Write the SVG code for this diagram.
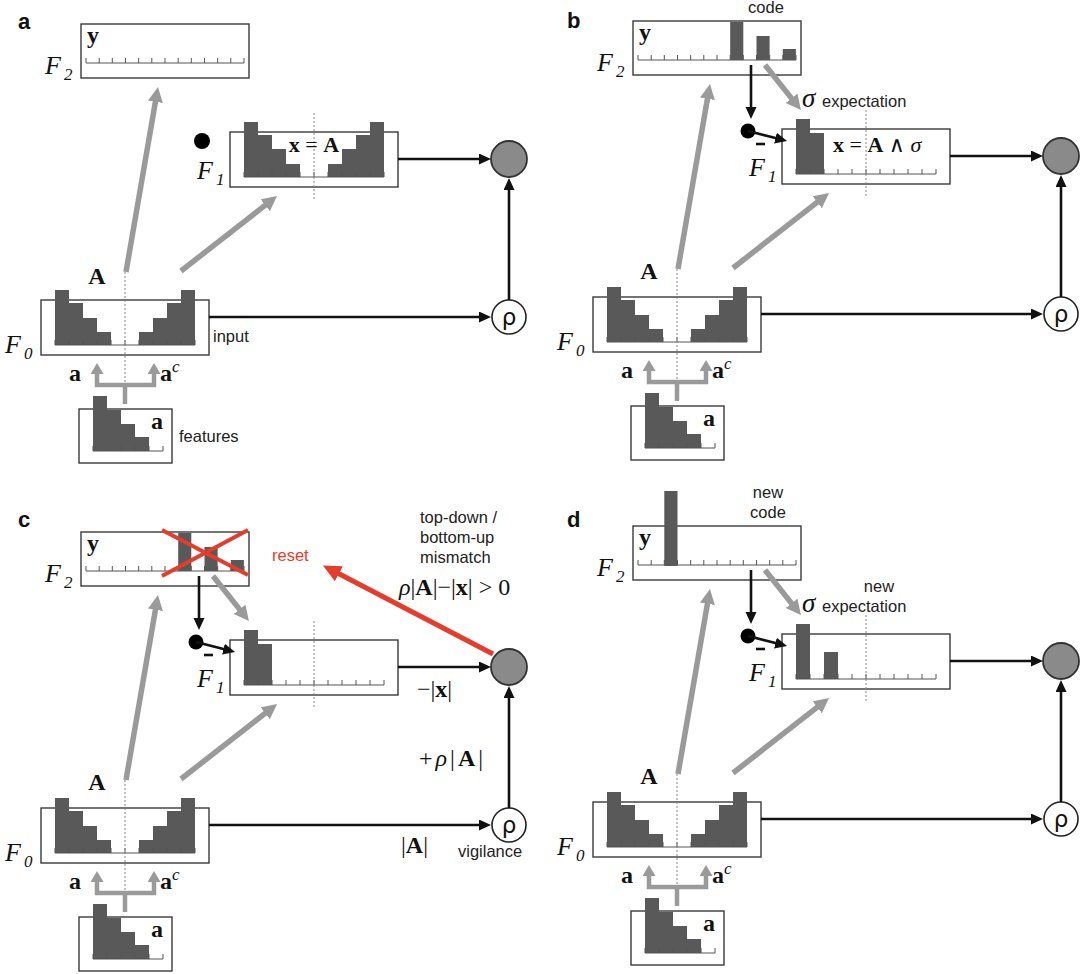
<svg xmlns="http://www.w3.org/2000/svg" width="1080" height="974" viewBox="0 0 1080 974">
<style>
.box{fill:#fff;stroke:#3a3a3a;stroke-width:1.4}
.bar{fill:#595959}
.axis{fill:none;stroke:#555;stroke-width:1}
.dash{fill:none;stroke:#888;stroke-width:1;stroke-dasharray:2 2}
.garrow{fill:none;stroke:#9a9a9a;stroke-width:5.5}
.gbranch{fill:none;stroke:#9a9a9a;stroke-width:4.5;stroke-linejoin:miter}
.barrow{fill:none;stroke:#111;stroke-width:2.6}
.rarrow{fill:none;stroke:#e63c2b;stroke-width:5}
.redx{fill:none;stroke:#e63c2b;stroke-width:4}
.match{fill:#8a8a8a;stroke:#333;stroke-width:1.8}
.rho{fill:#fff;stroke:#222;stroke-width:1.6}
.dot{fill:#000}
.math{font-family:"Liberation Serif","DejaVu Serif",serif;fill:#111}
.fl{font-family:"Liberation Serif","DejaVu Serif",serif;font-style:italic;font-size:26px;fill:#111}
.sub{font-family:"Liberation Serif","DejaVu Serif",serif;font-style:italic;font-size:17px;fill:#111}
.bs{font-family:"Liberation Serif","DejaVu Serif",serif;font-weight:bold;font-size:24px;fill:#111}
.lbl{font-family:"Liberation Sans","Arial",sans-serif;font-size:16.5px;fill:#222}
.pl{font-family:"Liberation Sans","Arial",sans-serif;font-weight:bold;font-size:22px;fill:#111}
.rhot{font-family:"DejaVu Sans","Liberation Sans",sans-serif;font-size:23px;fill:#111;text-anchor:middle}
</style>
<defs>
<marker id="gh" markerUnits="userSpaceOnUse" markerWidth="16" markerHeight="16" refX="1" refY="7.5" orient="auto"><path d="M0,0 L15,7.5 L0,15 z" fill="#9a9a9a"/></marker>
<marker id="gs" markerUnits="userSpaceOnUse" markerWidth="12" markerHeight="14" refX="1" refY="6.5" orient="auto"><path d="M0,0 L11,6.5 L0,13 z" fill="#9a9a9a"/></marker>
<marker id="bh" markerUnits="userSpaceOnUse" markerWidth="14" markerHeight="12" refX="1" refY="5.5" orient="auto"><path d="M0,0 L12,5.5 L0,11 z" fill="#111"/></marker>
<marker id="rh" markerUnits="userSpaceOnUse" markerWidth="20" markerHeight="18" refX="1" refY="8.5" orient="auto"><path d="M0,0 L18,8.5 L0,17 z" fill="#e63c2b"/></marker>
</defs>

<g id="panel-letters">
<text class="pl" x="18" y="29">a</text>
<text class="pl" x="567" y="28">b</text>
<text class="pl" x="18" y="527">c</text>
<text class="pl" x="567" y="527">d</text>
</g>

<!-- ================= PANEL A ================= -->
<g id="panel-a">
<g id="a-F2">
<rect class="box" x="81" y="24" width="168" height="54"/>
<path class="axis" d="M86,63H244M86,58V63M99.2,58V63M112.3,58V63M125.5,58V63M138.7,58V63M151.8,58V63M165,58V63M178.2,58V63M191.3,58V63M204.5,58V63M217.7,58V63M230.8,58V63M244,58V63"/>
<text class="bs" x="87" y="43">y</text>
<text class="fl" x="45" y="74">F</text><text class="sub" x="64" y="80">2</text>
</g>
<g id="a-F1">
<rect class="box" x="230" y="132" width="168" height="55"/>
<rect class="bar" x="244" y="122" width="14" height="55"/><rect class="bar" x="258" y="135" width="14" height="42"/><rect class="bar" x="272" y="149" width="14" height="28"/><rect class="bar" x="286" y="164" width="14" height="13"/>
<rect class="bar" x="328" y="164" width="14" height="13"/><rect class="bar" x="342" y="149" width="14" height="28"/><rect class="bar" x="356" y="135" width="14" height="42"/><rect class="bar" x="370" y="122" width="14" height="55"/>
<path class="axis" d="M244,177H384M244,172V177M258,172V177M272,172V177M286,172V177M300,172V177M314,172V177M328,172V177M342,172V177M356,172V177M370,172V177M384,172V177"/>
<path class="dash" d="M314,113V200"/>
<text class="math" x="314" y="152" font-size="22" text-anchor="middle"><tspan font-weight="bold">x</tspan> = <tspan font-weight="bold">A</tspan></text>
<circle class="dot" cx="202" cy="141" r="8"/>
<text class="fl" x="197" y="179">F</text><text class="sub" x="216" y="185">1</text>
</g>
<g id="a-F0">
<rect class="box" x="41" y="300" width="168" height="55"/>
<rect class="bar" x="55" y="290" width="14" height="55"/><rect class="bar" x="69" y="303" width="14" height="42"/><rect class="bar" x="83" y="318" width="14" height="27"/><rect class="bar" x="97" y="332" width="14" height="13"/>
<rect class="bar" x="139" y="332" width="14" height="13"/><rect class="bar" x="153" y="318" width="14" height="27"/><rect class="bar" x="167" y="303" width="14" height="42"/><rect class="bar" x="181" y="290" width="14" height="55"/>
<path class="axis" d="M55,345H195M55,340V345M69,340V345M83,340V345M97,340V345M111,340V345M125,340V345M139,340V345M153,340V345M167,340V345M181,340V345M195,340V345"/>
<path class="dash" d="M125,272V385"/>
<text class="bs" x="97" y="284" text-anchor="middle" font-size="25">A</text>
<text class="fl" x="5" y="353">F</text><text class="sub" x="24" y="359">0</text>
<text class="lbl" x="213" y="342">input</text>
<text class="bs" x="69" y="381">a</text>
<text class="bs" x="160" y="381">a</text><text class="sub" x="172" y="372" font-size="14">c</text>
</g>
<g id="a-features">
<rect class="box" x="79" y="409" width="93" height="54"/>
<rect class="bar" x="93" y="396" width="14" height="55"/><rect class="bar" x="107" y="410" width="14" height="41"/><rect class="bar" x="121" y="424" width="14" height="27"/><rect class="bar" x="135" y="437" width="14" height="14"/>
<path class="axis" d="M93,451H163M93,446V451M107,446V451M121,446V451M135,446V451M149,446V451M163,446V451"/>
<text class="bs" x="151" y="429" font-size="23">a</text>
<text class="lbl" x="179" y="442">features</text>
</g>
<g id="a-match"><circle class="match" cx="509" cy="159" r="18"/></g>
<g id="a-rho"><circle class="rho" cx="509" cy="317" r="17"/><text class="rhot" x="509" y="325">ρ</text></g>
<g id="a-connectors">
<path class="garrow" d="M126,272L155.6,100.8" marker-end="url(#gh)"/>
<path class="garrow" d="M181,271L266,204.6" marker-end="url(#gh)"/>
<path class="gbranch" d="M125,404V385M125,385H97V373" marker-end="url(#gs)"/>
<path class="gbranch" d="M125,385H154V373" marker-end="url(#gs)"/>
<path class="barrow" d="M398,159H480" marker-end="url(#bh)"/>
<path class="barrow" d="M209,317H480" marker-end="url(#bh)"/>
<path class="barrow" d="M509,300V189" marker-end="url(#bh)"/>
</g>
</g>

<!-- ================= PANEL B ================= -->
<g id="panel-b" transform="translate(552,-3)">
<g id="b-F2">
<rect class="box" x="81" y="24" width="168" height="54"/>
<path class="axis" d="M86,63H244M86,58V63M99.2,58V63M112.3,58V63M125.5,58V63M138.7,58V63M151.8,58V63M165,58V63M178.2,58V63M191.3,58V63M204.5,58V63M217.7,58V63M230.8,58V63M244,58V63"/>
<rect class="bar" x="178.2" y="25" width="13.1" height="38"/><rect class="bar" x="204.5" y="39" width="13.1" height="24"/><rect class="bar" x="230.8" y="52" width="13.1" height="11"/>
<text class="bs" x="87" y="43">y</text>
<text class="fl" x="45" y="74">F</text><text class="sub" x="64" y="80">2</text>
<text class="lbl" x="214" y="16" text-anchor="middle">code</text>
</g>
<g id="b-F1">
<rect class="box" x="230" y="132" width="168" height="55"/>
<rect class="bar" x="244" y="122" width="14" height="55"/><rect class="bar" x="258" y="136" width="14" height="41"/>
<path class="axis" d="M244,177H384M244,172V177M258,172V177M272,172V177M286,172V177M300,172V177M314,172V177M328,172V177M342,172V177M356,172V177M370,172V177M384,172V177"/>
<path class="dash" d="M314,113V200"/>
<text class="math" x="281" y="155" font-size="22"><tspan font-weight="bold">x</tspan> = <tspan font-weight="bold">A</tspan> ∧ <tspan font-style="italic">σ</tspan></text>
<circle class="dot" cx="196" cy="134" r="7.5"/>
<text class="fl" x="197" y="179">F</text><text class="sub" x="216" y="185">1</text>
<text class="math" x="250" y="110" font-size="27" font-style="italic">σ</text>
<text class="lbl" x="270" y="110">expectation</text>
</g>
<g id="b-F0">
<rect class="box" x="41" y="300" width="168" height="55"/>
<rect class="bar" x="55" y="290" width="14" height="55"/><rect class="bar" x="69" y="303" width="14" height="42"/><rect class="bar" x="83" y="318" width="14" height="27"/><rect class="bar" x="97" y="332" width="14" height="13"/>
<rect class="bar" x="139" y="332" width="14" height="13"/><rect class="bar" x="153" y="318" width="14" height="27"/><rect class="bar" x="167" y="303" width="14" height="42"/><rect class="bar" x="181" y="290" width="14" height="55"/>
<path class="axis" d="M55,345H195M55,340V345M69,340V345M83,340V345M97,340V345M111,340V345M125,340V345M139,340V345M153,340V345M167,340V345M181,340V345M195,340V345"/>
<path class="dash" d="M125,272V385"/>
<text class="bs" x="97" y="282" text-anchor="middle" font-size="25">A</text>
<text class="fl" x="5" y="353">F</text><text class="sub" x="24" y="359">0</text>
<text class="bs" x="69" y="381">a</text>
<text class="bs" x="160" y="381">a</text><text class="sub" x="172" y="372" font-size="14">c</text>
</g>
<g id="b-features">
<rect class="box" x="79" y="409" width="93" height="54"/>
<rect class="bar" x="93" y="396" width="14" height="55"/><rect class="bar" x="107" y="410" width="14" height="41"/><rect class="bar" x="121" y="424" width="14" height="27"/><rect class="bar" x="135" y="437" width="14" height="14"/>
<path class="axis" d="M93,451H163M93,446V451M107,446V451M121,446V451M135,446V451M149,446V451M163,446V451"/>
<text class="bs" x="151" y="429" font-size="23">a</text>
</g>
<g id="b-match"><circle class="match" cx="509" cy="159" r="18"/></g>
<g id="b-rho"><circle class="rho" cx="509" cy="317" r="17"/><text class="rhot" x="509" y="325">ρ</text></g>
<g id="b-connectors">
<path class="garrow" d="M126,272L155.6,100.8" marker-end="url(#gh)"/>
<path class="garrow" d="M181,271L266,204.6" marker-end="url(#gh)"/>
<path class="garrow" d="M213,68L240.2,102.1" marker-end="url(#gh)"/>
<path class="gbranch" d="M125,404V385M125,385H97V373" marker-end="url(#gs)"/>
<path class="gbranch" d="M125,385H154V373" marker-end="url(#gs)"/>
<path class="barrow" d="M199,68V111" marker-end="url(#bh)"/>
<path class="barrow" d="M196,134L224.4,141.3" marker-end="url(#bh)"/>
<path class="barrow" d="M204,147H213"/>
<path class="barrow" d="M398,159H480" marker-end="url(#bh)"/>
<path class="barrow" d="M209,317H480" marker-end="url(#bh)"/>
<path class="barrow" d="M509,300V189" marker-end="url(#bh)"/>
</g>
</g>

<!-- ================= PANEL C ================= -->
<g id="panel-c" transform="translate(0,508)">
<g id="c-F2">
<rect class="box" x="81" y="24" width="168" height="54"/>
<path class="axis" d="M86,63H244M86,58V63M99.2,58V63M112.3,58V63M125.5,58V63M138.7,58V63M151.8,58V63M165,58V63M178.2,58V63M191.3,58V63M204.5,58V63M217.7,58V63M230.8,58V63M244,58V63"/>
<rect class="bar" x="178.2" y="25" width="13.1" height="38"/><rect class="bar" x="204.5" y="39" width="13.1" height="24"/><rect class="bar" x="230.8" y="52" width="13.1" height="11"/>
<path class="redx" d="M162,22L248,67M162,68L248,22"/>
<text class="bs" x="87" y="43">y</text>
<text class="fl" x="45" y="74">F</text><text class="sub" x="64" y="80">2</text>
</g>
<g id="c-F1">
<rect class="box" x="230" y="132" width="168" height="55"/>
<rect class="bar" x="244" y="122" width="14" height="55"/><rect class="bar" x="258" y="136" width="14" height="41"/>
<path class="axis" d="M244,177H384M244,172V177M258,172V177M272,172V177M286,172V177M300,172V177M314,172V177M328,172V177M342,172V177M356,172V177M370,172V177M384,172V177"/>
<path class="dash" d="M314,113V200"/>
<circle class="dot" cx="196" cy="134" r="7.5"/>
<text class="fl" x="197" y="179">F</text><text class="sub" x="216" y="185">1</text>
</g>
<g id="c-F0">
<rect class="box" x="41" y="300" width="168" height="55"/>
<rect class="bar" x="55" y="290" width="14" height="55"/><rect class="bar" x="69" y="303" width="14" height="42"/><rect class="bar" x="83" y="318" width="14" height="27"/><rect class="bar" x="97" y="332" width="14" height="13"/>
<rect class="bar" x="139" y="332" width="14" height="13"/><rect class="bar" x="153" y="318" width="14" height="27"/><rect class="bar" x="167" y="303" width="14" height="42"/><rect class="bar" x="181" y="290" width="14" height="55"/>
<path class="axis" d="M55,345H195M55,340V345M69,340V345M83,340V345M97,340V345M111,340V345M125,340V345M139,340V345M153,340V345M167,340V345M181,340V345M195,340V345"/>
<path class="dash" d="M125,272V385"/>
<text class="bs" x="97" y="282" text-anchor="middle" font-size="25">A</text>
<text class="fl" x="5" y="353">F</text><text class="sub" x="24" y="359">0</text>
<text class="bs" x="69" y="381">a</text>
<text class="bs" x="160" y="381">a</text><text class="sub" x="172" y="372" font-size="14">c</text>
</g>
<g id="c-features">
<rect class="box" x="79" y="409" width="93" height="54"/>
<rect class="bar" x="93" y="396" width="14" height="55"/><rect class="bar" x="107" y="410" width="14" height="41"/><rect class="bar" x="121" y="424" width="14" height="27"/><rect class="bar" x="135" y="437" width="14" height="14"/>
<path class="axis" d="M93,451H163M93,446V451M107,446V451M121,446V451M135,446V451M149,446V451M163,446V451"/>
<text class="bs" x="151" y="429" font-size="23">a</text>
</g>
<g id="c-match"><circle class="match" cx="509" cy="159" r="18"/></g>
<g id="c-rho"><circle class="rho" cx="509" cy="317" r="17"/><text class="rhot" x="509" y="325">ρ</text>
<text class="lbl" x="458" y="349">vigilance</text></g>
<g id="c-connectors">
<path class="garrow" d="M126,272L155.6,100.8" marker-end="url(#gh)"/>
<path class="garrow" d="M181,271L266,204.6" marker-end="url(#gh)"/>
<path class="garrow" d="M213,68L240.2,102.1" marker-end="url(#gh)"/>
<path class="gbranch" d="M125,404V385M125,385H97V373" marker-end="url(#gs)"/>
<path class="gbranch" d="M125,385H154V373" marker-end="url(#gs)"/>
<path class="barrow" d="M199,68V111" marker-end="url(#bh)"/>
<path class="barrow" d="M196,134L224.4,141.3" marker-end="url(#bh)"/>
<path class="barrow" d="M204,147H213"/>
<path class="barrow" d="M398,159H480" marker-end="url(#bh)"/>
<path class="barrow" d="M209,317H480" marker-end="url(#bh)"/>
<path class="barrow" d="M509,300V189" marker-end="url(#bh)"/>
<path class="rarrow" d="M493,146L338,65.3" marker-end="url(#rh)"/>
</g>
<g id="c-labels">
<text class="lbl" x="272" y="53" style="fill:#e63c2b">reset</text>
<text class="lbl" x="420" y="15">top-down /</text>
<text class="lbl" x="420" y="35">bottom-up</text>
<text class="lbl" x="420" y="55">mismatch</text>
<text class="math" x="399" y="87" font-size="24"><tspan font-style="italic">ρ</tspan>|<tspan font-weight="bold">A</tspan>|−|<tspan font-weight="bold">x</tspan>| &gt; 0</text>
<text class="math" x="417" y="189" font-size="24">−|<tspan font-weight="bold">x</tspan>|</text>
<text class="math" x="419" y="258" font-size="24" letter-spacing="3">+<tspan font-style="italic">ρ</tspan>|<tspan font-weight="bold">A</tspan>|</text>
<text class="math" x="401" y="345" font-size="24">|<tspan font-weight="bold">A</tspan>|</text>
</g>
</g>

<!-- ================= PANEL D ================= -->
<g id="panel-d" transform="translate(552,502)">
<g id="d-F2">
<rect class="box" x="81" y="24" width="168" height="54"/>
<path class="axis" d="M86,63H244M86,58V63M99.2,58V63M112.3,58V63M125.5,58V63M138.7,58V63M151.8,58V63M165,58V63M178.2,58V63M191.3,58V63M204.5,58V63M217.7,58V63M230.8,58V63M244,58V63"/>
<rect class="bar" x="112.3" y="-11" width="13.2" height="75"/>
<text class="bs" x="87" y="43">y</text>
<text class="fl" x="45" y="74">F</text><text class="sub" x="64" y="80">2</text>
<text class="lbl" x="216" y="-4" text-anchor="middle">new</text>
<text class="lbl" x="216" y="16" text-anchor="middle">code</text>
</g>
<g id="d-F1">
<rect class="box" x="230" y="132" width="168" height="55"/>
<rect class="bar" x="244" y="122" width="14" height="55"/><rect class="bar" x="272" y="150" width="14" height="27"/>
<path class="axis" d="M244,177H384M244,172V177M258,172V177M272,172V177M286,172V177M300,172V177M314,172V177M328,172V177M342,172V177M356,172V177M370,172V177M384,172V177"/>
<path class="dash" d="M314,113V200"/>
<circle class="dot" cx="196" cy="134" r="7.5"/>
<text class="fl" x="197" y="179">F</text><text class="sub" x="216" y="185">1</text>
<text class="math" x="250" y="110" font-size="27" font-style="italic">σ</text>
<text class="lbl" x="327" y="90" text-anchor="middle">new</text>
<text class="lbl" x="270" y="110">expectation</text>
</g>
<g id="d-F0">
<rect class="box" x="41" y="300" width="168" height="55"/>
<rect class="bar" x="55" y="290" width="14" height="55"/><rect class="bar" x="69" y="303" width="14" height="42"/><rect class="bar" x="83" y="318" width="14" height="27"/><rect class="bar" x="97" y="332" width="14" height="13"/>
<rect class="bar" x="139" y="332" width="14" height="13"/><rect class="bar" x="153" y="318" width="14" height="27"/><rect class="bar" x="167" y="303" width="14" height="42"/><rect class="bar" x="181" y="290" width="14" height="55"/>
<path class="axis" d="M55,345H195M55,340V345M69,340V345M83,340V345M97,340V345M111,340V345M125,340V345M139,340V345M153,340V345M167,340V345M181,340V345M195,340V345"/>
<path class="dash" d="M125,272V385"/>
<text class="bs" x="97" y="282" text-anchor="middle" font-size="25">A</text>
<text class="fl" x="5" y="353">F</text><text class="sub" x="24" y="359">0</text>
<text class="bs" x="69" y="381">a</text>
<text class="bs" x="160" y="381">a</text><text class="sub" x="172" y="372" font-size="14">c</text>
</g>
<g id="d-features">
<rect class="box" x="79" y="409" width="93" height="54"/>
<rect class="bar" x="93" y="396" width="14" height="55"/><rect class="bar" x="107" y="410" width="14" height="41"/><rect class="bar" x="121" y="424" width="14" height="27"/><rect class="bar" x="135" y="437" width="14" height="14"/>
<path class="axis" d="M93,451H163M93,446V451M107,446V451M121,446V451M135,446V451M149,446V451M163,446V451"/>
<text class="bs" x="151" y="429" font-size="23">a</text>
</g>
<g id="d-match"><circle class="match" cx="509" cy="159" r="18"/></g>
<g id="d-rho"><circle class="rho" cx="509" cy="317" r="17"/><text class="rhot" x="509" y="325">ρ</text></g>
<g id="d-connectors">
<path class="garrow" d="M126,272L155.6,100.8" marker-end="url(#gh)"/>
<path class="garrow" d="M181,271L266,204.6" marker-end="url(#gh)"/>
<path class="garrow" d="M213,68L240.2,102.1" marker-end="url(#gh)"/>
<path class="gbranch" d="M125,404V385M125,385H97V373" marker-end="url(#gs)"/>
<path class="gbranch" d="M125,385H154V373" marker-end="url(#gs)"/>
<path class="barrow" d="M199,68V111" marker-end="url(#bh)"/>
<path class="barrow" d="M196,134L224.4,141.3" marker-end="url(#bh)"/>
<path class="barrow" d="M204,147H213"/>
<path class="barrow" d="M398,159H480" marker-end="url(#bh)"/>
<path class="barrow" d="M209,317H480" marker-end="url(#bh)"/>
<path class="barrow" d="M509,300V189" marker-end="url(#bh)"/>
</g>
</g>
</svg>
